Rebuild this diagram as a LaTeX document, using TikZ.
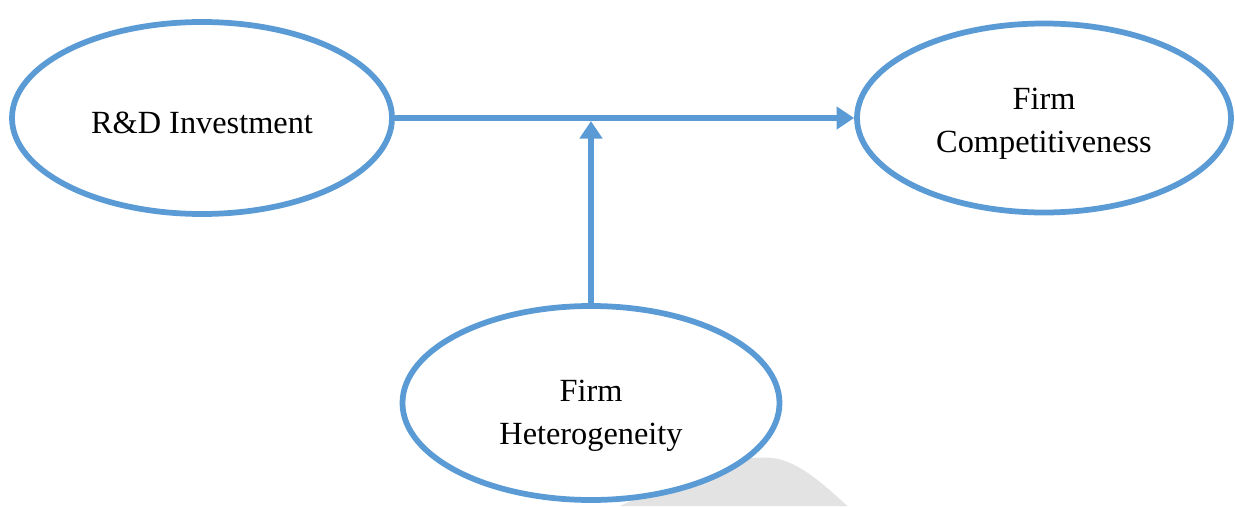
\documentclass[tikz,border=0pt]{standalone}
\usepackage{fontspec}
\setmainfont{Liberation Serif}
\usetikzlibrary{shapes.geometric,arrows.meta}
\definecolor{linkblue}{RGB}{91,155,213}
\begin{document}
\begin{tikzpicture}[x=1cm,y=1cm,
    construct/.style={ellipse, draw=linkblue, line width=0.115cm, fill=white, align=center,
        font=\fontsize{18.4}{24.4}\selectfont, inner sep=0pt},
    link/.style={draw=linkblue, line width=0.12cm, -{Triangle[length=0.35cm,width=0.44cm]}}]
    \useasboundingbox (0,0) rectangle (24.7,10.12);
    % faint grey mark behind the lower ellipse
    \fill[gray!22] (12.4,0) .. controls (14.3,0.85) and (14.8,0.98) .. (15.35,0.97)
        .. controls (15.9,0.95) and (16.4,0.5) .. (16.95,0) -- cycle;

    \node[construct, minimum width=7.6cm, minimum height=3.84cm] (rd) at (4.04,7.76) {\rule{0pt}{0.64cm}R\&D Investment};
    \node[construct, minimum width=7.48cm, minimum height=3.78cm] (comp) at (20.88,7.76) {\rule{0pt}{0.66cm}Firm\\Competitiveness};
    \node[construct, minimum width=7.54cm, minimum height=3.88cm] (het) at (11.82,2.06) {\rule{0pt}{0.94cm}Firm\\Heterogeneity};

    \draw[link] (rd.east) -- (comp.west) coordinate[pos=0.45] (mid);
    \draw[link, shorten >=0.06cm] (het.north) -- (het.north |- mid);
\end{tikzpicture}
\end{document}
